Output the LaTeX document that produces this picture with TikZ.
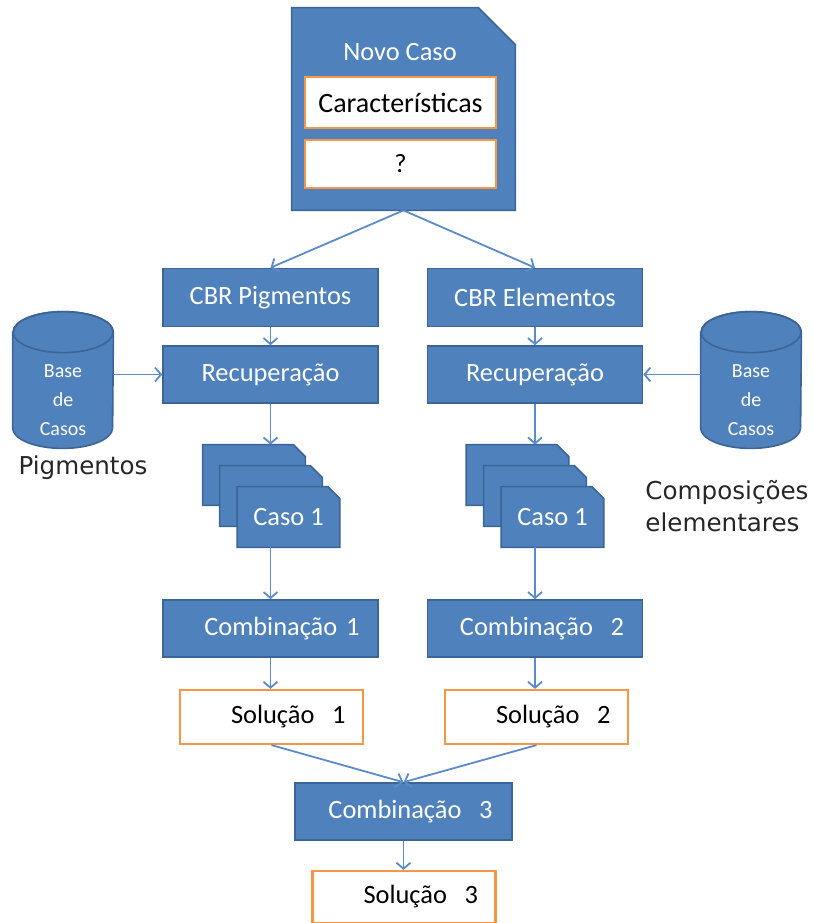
\documentclass[tikz,border=0pt]{standalone}
\usepackage{fontspec}
\setmainfont{Carlito}
\newfontfamily\sidefont{DejaVu Sans}
\usetikzlibrary{arrows.meta,positioning,backgrounds}

\definecolor{boxblue}{HTML}{4F81BD}
\definecolor{boxedge}{HTML}{3B6597}
\definecolor{lineblue}{HTML}{5B8BCB}
\definecolor{solorange}{HTML}{F79646}

\tikzset{
  >={Straight Barb[length=3pt,width=7pt]},
  block/.style={rectangle, fill=boxblue, draw=boxedge, line width=0.8pt, text=white,
    font=\fontsize{13.2}{15}\selectfont, minimum width=107.5pt, minimum height=29pt, inner sep=0pt},
  blockr/.style={block, text width=89pt, align=right},
  solbox/.style={rectangle, fill=white, draw=solorange, line width=1.1pt, text=black,
    font=\fontsize{13.2}{15}\selectfont, minimum width=91.5pt, minimum height=27pt, inner sep=0pt,
    text width=74pt, align=right},
  fieldbox/.style={solbox, minimum width=95.5pt, text width=90pt, align=center},
  docnode/.style={rectangle, draw=none, inner sep=0pt},
  basenode/.style={rectangle, draw=none, inner sep=0pt, minimum width=50pt, minimum height=47.5pt,
    text=white, font=\fontsize{10}{14.5}\selectfont},
  sidelabel/.style={text=black!85, font=\sidefont\fontsize{12.3}{16}\selectfont, inner sep=0pt},
  link/.style={draw=lineblue, line width=0.9pt, ->},
  docfill/.style={fill=boxblue, draw=boxedge, line width=0.8pt}
}

% page with one corner cut off
\newcommand\docoutline[2]{%
  \filldraw[docfill] (#1.south west) -- (#1.north west) -- ([xshift=-#2]#1.north east)
    -- ([yshift=-#2]#1.north east) -- (#1.south east) -- cycle;}
% cylinder round a body node
\newcommand\dbcylinder[1]{%
  \filldraw[docfill] ([yshift=10.25pt]#1.north west) -- ([yshift=10.25pt]#1.south west)
    arc[start angle=180, end angle=360, x radius=25pt, y radius=10.25pt]
    -- ([yshift=10.25pt]#1.north east)
    arc[start angle=0, end angle=180, x radius=25pt, y radius=10.25pt] -- cycle;
  \draw[boxedge, line width=0.8pt] ([yshift=10.25pt]#1.north) ellipse [x radius=25pt, y radius=10.25pt];}
\newcommand\basetext{\raisebox{-2pt}{\begin{tabular}{@{}c@{}}Base\\de\\Casos\end{tabular}}}

\begin{document}
\begin{tikzpicture}[x=0.5pt, y=-0.5pt]
\useasboundingbox (0,0) rectangle (814,923);

% new case
\node[docnode, minimum width=111.5pt, minimum height=101pt] (novo) at (403.5,109) {};
\node[text=white, font=\fontsize{13.2}{15}\selectfont] (novolbl) at (400,52) {Novo Caso};
\node[fieldbox, font=\fontsize{14}{16}\selectfont, minimum height=25.5pt] (caract) at (400.5,102.5) {Características};
\node[fieldbox, minimum height=24pt] (quest) at (400.5,164) {?};

\node[block] (cbrP) at (270.5,297.5) {CBR Pigmentos};
\node[block] (cbrE) at (535,297.5) {CBR Elementos};
\node[block, minimum height=28.5pt] (recP) at (270.5,374.5) {Recuperação};
\node[block, minimum height=28.5pt] (recE) at (535,374.5) {Recuperação};

% case bases
\node[basenode] (baseP) at (63,400.5) {\basetext};
\node[basenode] (baseE) at (751,400.5) {\basetext};
\node[sidelabel] (lblP) at (83,468) {Pigmentos};
\node[sidelabel, align=left] (lblE) at (727,506) {Composições\\elementares};

% retrieved cases
\node[docnode, minimum width=51pt, minimum height=30pt] (p1) at (254,475) {};
\node[docnode, minimum width=51pt, minimum height=30pt] (p2) at (271,496) {};
\node[docnode, minimum width=51pt, minimum height=30pt, text=white,
  font=\fontsize{13.2}{15}\selectfont] (p3) at (288.5,517) {Caso 1};
\node[docnode, minimum width=51pt, minimum height=30pt] (q1) at (517.5,475) {};
\node[docnode, minimum width=51pt, minimum height=30pt] (q2) at (535,496) {};
\node[docnode, minimum width=51pt, minimum height=30pt, text=white,
  font=\fontsize{13.2}{15}\selectfont] (q3) at (552.5,517) {Caso 1};

\node[blockr, minimum height=28.5pt] (combP) at (270.5,628.5) {Combinação 1};
\node[blockr, minimum height=28.5pt] (combE) at (535,628.5) {Combinação\ \ 2};
\node[solbox] (solP) at (271.5,717) {Solução\ \ 1};
\node[solbox] (solE) at (536.5,717) {Solução\ \ 2};
\node[blockr, minimum width=108.5pt, minimum height=28.5pt] (comb3) at (403.5,811.5) {Combinação\ \ 3};
\node[solbox, minimum height=26pt] (sol3) at (404,897) {Solução\ \ 3};

\begin{scope}[on background layer]
\docoutline{novo}{18.5pt}
\dbcylinder{baseP}
\dbcylinder{baseE}
\docoutline{p1}{6pt}
\docoutline{p2}{6pt}
\docoutline{p3}{6pt}
\docoutline{q1}{6pt}
\docoutline{q2}{6pt}
\docoutline{q3}{6pt}
\end{scope}

\draw[link] (novo.south) -- (cbrP.north);
\draw[link] (novo.south) -- (cbrE.north);
\draw[link] (cbrP) -- (recP);
\draw[link] (cbrE) -- (recE);
\draw[link] (recP.west -| baseP.east) -- (recP.west);
\draw[link] (recE.east -| baseE.west) -- (recE.east);
\draw[link] (recP.south) -- (recP.south |- p1.north);
\draw[link] (recE.south) -- (recE.south |- q1.north);
\draw[link] (combP.north |- p3.south) -- (combP.north);
\draw[link] (combE.north |- q3.south) -- (combE.north);
\draw[link] (combP.south) -- (combP.south |- solP.north);
\draw[link] (combE.south) -- (combE.south |- solE.north);
\draw[link] (solP.south) -- (comb3.north);
\draw[link] (solE.south) -- (comb3.north);
\draw[link] (comb3.south) -- (comb3.south |- sol3.north);

\end{tikzpicture}
\end{document}
